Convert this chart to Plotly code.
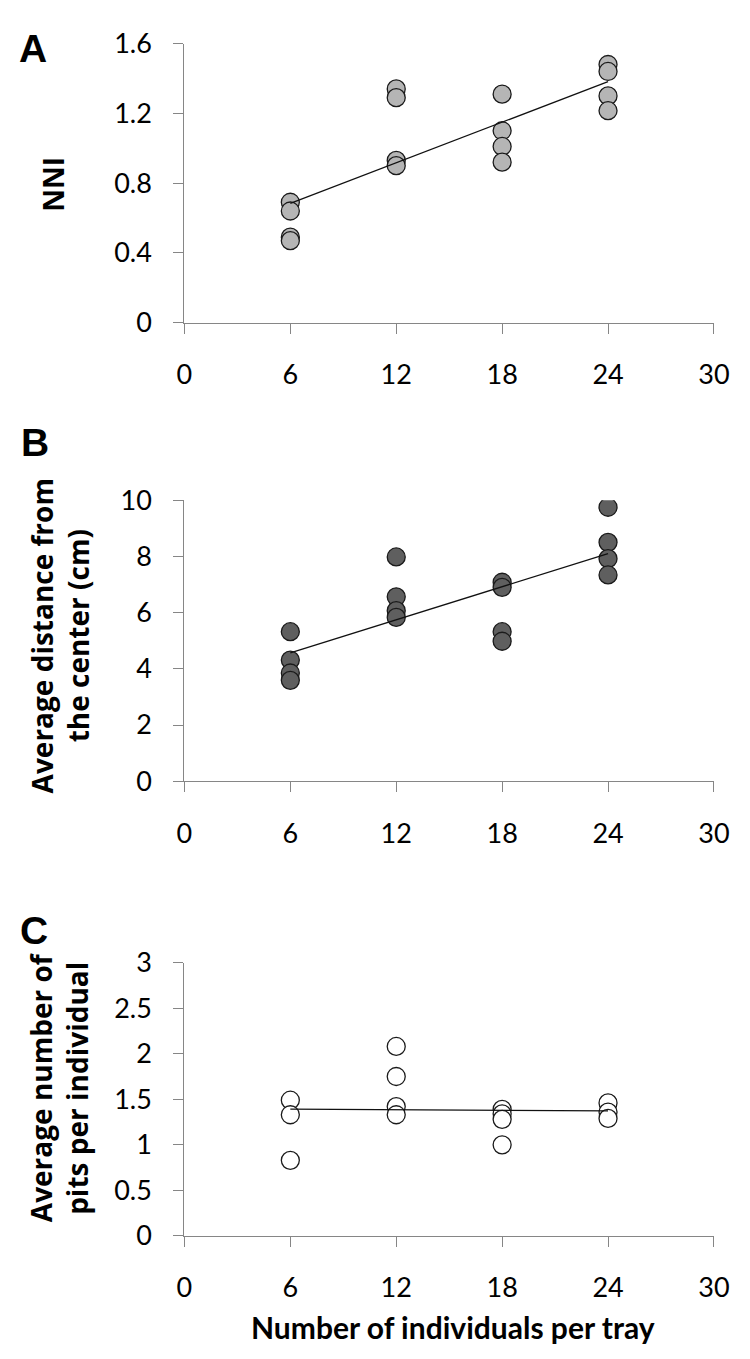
import numpy as np
import plotly.graph_objects as go

W, H = 750, 1359

# ---------------- data ----------------
density_levels = [6, 12, 18, 24]

nni_x = [6, 6, 6, 6, 12, 12, 12, 12, 18, 18, 18, 18, 24, 24, 24, 24]
nni_y = [0.69, 0.64, 0.49, 0.47, 1.34, 1.29, 0.93, 0.90,
         1.31, 1.10, 1.01, 0.92, 1.48, 1.44, 1.30, 1.215]

dist_x = [6, 6, 6, 6, 12, 12, 12, 12, 18, 18, 18, 18, 24, 24, 24, 24]
dist_y = [5.32, 4.31, 3.85, 3.59, 7.98, 6.56, 6.07, 5.83,
          7.08, 6.90, 5.32, 4.98, 9.75, 8.50, 7.92, 7.34]

pits_x = [6, 6, 6, 12, 12, 12, 12, 18, 18, 18, 18, 24, 24, 24]
pits_y = [1.49, 1.33, 0.83, 2.08, 1.75, 1.42, 1.33,
          1.39, 1.34, 1.28, 1.00, 1.46, 1.36, 1.29]

x_ticks = [0, 6, 12, 18, 24, 30]
a_ticks = [0, 0.4, 0.8, 1.2, 1.6]
a_ticktext = ["0", "0.4", "0.8", "1.2", "1.6"]
b_ticks = [0, 2, 4, 6, 8, 10]
c_ticks = [0, 0.5, 1, 1.5, 2, 2.5, 3]
c_ticktext = ["0", "0.5", "1", "1.5", "2", "2.5", "3"]

panel_letters = ["A", "B", "C"]
y_titles = ["NNI", "Average distance from<br>the center (cm)",
            "Average number of<br>pits per individual"]
x_title = "Number of individuals per tray"

# ---------------- layout geometry (pixels) ----------------
x_left, x_right = 174, 721
panels = [  # (top px, bottom px)
    (18, 304),
    (486, 774),
    (960, 1240),
]

def py(v):
    return 1 - v / H

def px(v):
    return v / W

fig = go.Figure()

fills = ["#b5b5b5", "#5f5f5f", "#ffffff"]
datasets = [(nni_x, nni_y), (dist_x, dist_y), (pits_x, pits_y)]

for i, ((xs, ys), fill) in enumerate(zip(datasets, fills)):
    ax = "" if i == 0 else str(i + 1)
    slope, icpt = np.polyfit(xs, ys, 1)
    lx = [min(density_levels), max(density_levels)]
    ly = [slope * v + icpt for v in lx]
    fig.add_trace(go.Scatter(
        x=xs, y=ys, mode="markers", xaxis="x" + ax, yaxis="y" + ax,
        marker=dict(size=18, color=fill, line=dict(color="#1a1a1a", width=1.3)),
        showlegend=False, hoverinfo="x+y"))
    fig.add_trace(go.Scatter(
        x=lx, y=ly, mode="lines", xaxis="x" + ax, yaxis="y" + ax,
        line=dict(color="#111111", width=1.3), showlegend=False, hoverinfo="skip"))

tick_font = dict(family="Lato, Open Sans, sans-serif", size=27, color="#000000")
axis_common = dict(showgrid=False, zeroline=False, showline=True,
                   linecolor="#868686", linewidth=1.3,
                   ticks="outside", ticklen=10, tickcolor="#868686", tickwidth=1.3,
                   tickfont=tick_font)

yranges = [(0, 1.6), (0, 10), (0, 3)]
yticks = [(a_ticks, a_ticktext), (b_ticks, [str(v) for v in b_ticks]), (c_ticks, c_ticktext)]

layout = dict(width=W, height=H, margin=dict(l=0, r=0, t=0, b=0),
              paper_bgcolor="white", plot_bgcolor="white")

for i, ((top, bot), yr, (tv, tt)) in enumerate(zip(panels, yranges, yticks)):
    sfx = "" if i == 0 else str(i + 1)
    layout["xaxis" + sfx] = dict(axis_common, domain=[px(x_left), px(x_right)],
                                 range=[0, 30], tickvals=x_ticks,
                                 ticktext=[str(v) for v in x_ticks],
                                 anchor="y" + sfx, ticklabelstandoff=18)
    layout["yaxis" + sfx] = dict(axis_common, domain=[py(bot), py(top)],
                                 range=list(yr), tickvals=tv, ticktext=tt,
                                 anchor="x" + sfx, ticklabelstandoff=16)

fig.update_layout(**layout)

annotations = []
letter_pos = [(18, 23), (20, 427), (19, 927)]
for letter, (lx, ly) in zip(panel_letters, letter_pos):
    annotations.append(dict(text="<b>%s</b>" % letter, x=px(lx), y=py(ly),
                            xref="paper", yref="paper", showarrow=False,
                            xanchor="center", yanchor="middle",
                            font=dict(family="Liberation Sans, Arial", size=39, color="#000")))

title_pos = [(38, 162), (45, 625), (44, 1088)]
for t, (tx, ty) in zip(y_titles, title_pos):
    annotations.append(dict(text="<b>%s</b>" % t, x=px(tx), y=py(ty),
                            xref="paper", yref="paper", showarrow=False,
                            textangle=-90, xanchor="center", yanchor="middle",
                            font=dict(family="Open Sans, sans-serif", size=28, color="#000")))

annotations.append(dict(text="<b>%s</b>" % x_title, x=px(451), y=py(1333),
                        xref="paper", yref="paper", showarrow=False,
                        xanchor="center", yanchor="middle",
                        font=dict(family="Lato, Open Sans, sans-serif", size=30, color="#000")))

fig.update_layout(annotations=annotations)
fig.write_html("out.html")
